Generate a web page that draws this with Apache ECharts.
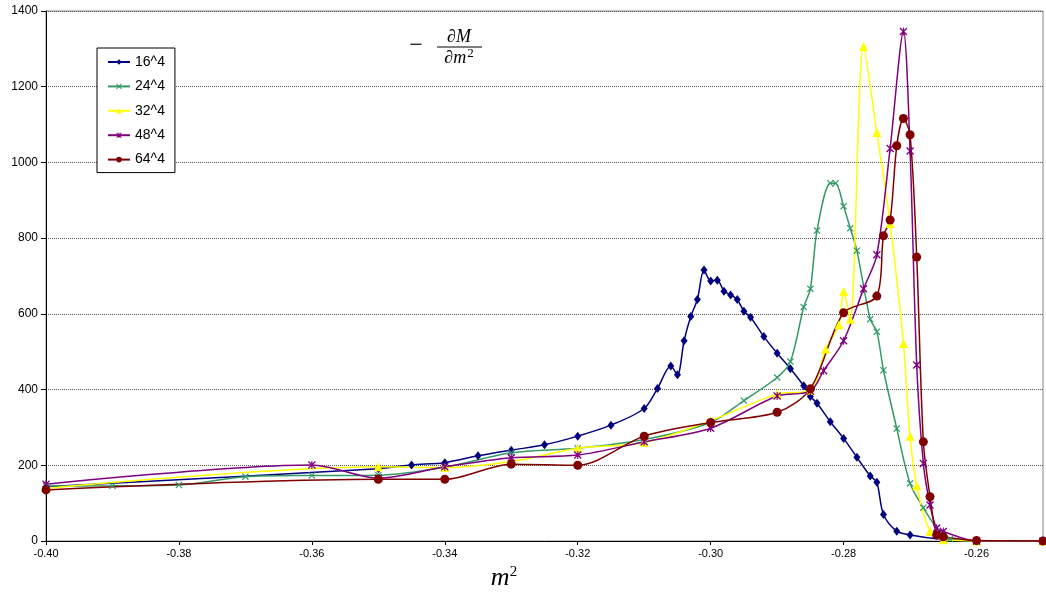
<!DOCTYPE html>
<html>
<head>
<meta charset="utf-8">
<script src="https://cdn.jsdelivr.net/npm/echarts@6/dist/echarts.min.js"></script>
<style>
  html, body { margin: 0; padding: 0; background: #fff; }
  #chart { width: 1046px; height: 592px; }
</style>
</head>
<body>
<div id="chart"></div>
<script>
// series names
const names = ["16^4", "24^4", "32^4", "48^4", "64^4"];

// [m^2, -dM/dm^2]
const s16 = [
  [-0.40, 143], [-0.35, 191], [-0.345, 201], [-0.34, 207], [-0.335, 225], [-0.33, 240],
  [-0.325, 254], [-0.32, 277], [-0.315, 306], [-0.31, 350], [-0.308, 403], [-0.306, 462],
  [-0.305, 439], [-0.304, 529], [-0.303, 593], [-0.302, 638], [-0.301, 716], [-0.300, 687],
  [-0.299, 689], [-0.298, 660], [-0.297, 650], [-0.296, 638], [-0.295, 607], [-0.294, 591],
  [-0.292, 540], [-0.290, 496], [-0.288, 455], [-0.286, 410], [-0.285, 382], [-0.284, 364],
  [-0.282, 315], [-0.280, 271], [-0.278, 221], [-0.276, 172], [-0.275, 155], [-0.274, 70],
  [-0.272, 26], [-0.270, 16], [-0.265, 4], [-0.26, 0], [-0.25, 0]
];
const s24 = [
  [-0.40, 145], [-0.39, 146], [-0.38, 148], [-0.37, 170], [-0.36, 173], [-0.35, 174],
  [-0.34, 195], [-0.33, 233], [-0.32, 245], [-0.31, 268], [-0.30, 313], [-0.295, 371],
  [-0.290, 432], [-0.288, 474], [-0.286, 618], [-0.285, 666], [-0.284, 820], [-0.282, 945],
  [-0.2812, 945], [-0.280, 884], [-0.279, 826], [-0.278, 767], [-0.276, 586], [-0.275, 553],
  [-0.274, 451], [-0.272, 297], [-0.270, 152], [-0.268, 88], [-0.266, 35], [-0.264, 5],
  [-0.26, 0], [-0.25, 0]
];
const s32 = [
  [-0.40, 139], [-0.35, 196], [-0.34, 194], [-0.33, 210], [-0.32, 245], [-0.31, 260],
  [-0.30, 318], [-0.29, 388], [-0.285, 398], [-0.2827, 507], [-0.2807, 571], [-0.280, 659],
  [-0.279, 586], [-0.277, 1306], [-0.275, 1079], [-0.273, 839], [-0.271, 522], [-0.270, 277],
  [-0.269, 146], [-0.267, 25], [-0.265, 3], [-0.26, 0], [-0.25, 0]
];
const s48 = [
  [-0.40, 150], [-0.36, 201], [-0.35, 166], [-0.34, 196], [-0.33, 220], [-0.32, 227],
  [-0.31, 262], [-0.30, 298], [-0.29, 383], [-0.285, 396], [-0.283, 450], [-0.280, 529],
  [-0.277, 666], [-0.275, 756], [-0.273, 1037], [-0.271, 1346], [-0.270, 1030], [-0.269, 465],
  [-0.268, 205], [-0.267, 95], [-0.266, 34], [-0.265, 25], [-0.26, 0], [-0.25, 0]
];
const s64 = [
  [-0.40, 135], [-0.35, 163], [-0.34, 163], [-0.33, 203], [-0.32, 200], [-0.31, 277],
  [-0.30, 313], [-0.29, 340], [-0.285, 402], [-0.280, 603], [-0.275, 647], [-0.274, 806],
  [-0.273, 848], [-0.272, 1044], [-0.271, 1116], [-0.270, 1073], [-0.269, 750], [-0.268, 262],
  [-0.267, 117], [-0.266, 16], [-0.265, 11], [-0.26, 1], [-0.25, 0]
];

const colors = ["#000080", "#339966", "#ffff00", "#800080", "#800000"];

// marker shapes (excel style)
const crossPath = "path://M0,1.2 L1.2,0 L5,3.8 L8.8,0 L10,1.2 L6.2,5 L10,8.8 L8.8,10 L5,6.2 L1.2,10 L0,8.8 L3.8,5 Z";
const starPath = crossPath + " M4.3,0 L5.7,0 L5.7,10 L4.3,10 Z";
const symbols = ["diamond", crossPath, "triangle", starPath, "circle"];
const symbolSizes = [[7, 9], 7, 9, 8, 9];

const chart = echarts.init(document.getElementById("chart"));

const seriesData = [s16, s24, s32, s48, s64];
const series = seriesData.map((d, i) => ({
  name: names[i],
  type: "line",
  data: d,
  smooth: 0.3,
  symbol: symbols[i],
  symbolSize: symbolSizes[i],
  showAllSymbol: true,
  color: colors[i],
  lineStyle: { width: 1.5, color: colors[i] },
  itemStyle: { color: colors[i] },
  animation: false
}));

const option = {
  animation: false,
  backgroundColor: "#fff",
  grid: {
    left: 46, right: 3, top: 11, bottom: 51,
    show: true, borderColor: "#888", borderWidth: 1
  },
  legend: {
    orient: "vertical",
    left: 97, top: 48,
    padding: [7, 10, 6, 10],
    itemWidth: 22, itemHeight: 7, itemGap: 10.4,
    borderColor: "#000", borderWidth: 1,
    backgroundColor: "#fff",
    textStyle: { fontFamily: "Liberation Sans", fontSize: 14, color: "#000", lineHeight: 14 },
    data: names
  },
  xAxis: {
    type: "value",
    min: -0.40, max: -0.25, interval: 0.02,
    axisLine: { show: true, onZero: false, lineStyle: { color: "#000", width: 1 } },
    axisTick: { show: true, length: 4, lineStyle: { color: "#000" } },
    splitLine: { show: false },
    axisLabel: {
      fontFamily: "Liberation Sans Narrow, Liberation Sans",
      fontSize: 11, color: "#000", margin: 7,
      showMaxLabel: false,
      formatter: v => v.toFixed(2)
    }
  },
  yAxis: {
    type: "value",
    min: 0, max: 1400, interval: 200,
    axisLine: { show: true, lineStyle: { color: "#000", width: 1 } },
    axisTick: { show: true, length: 5, lineStyle: { color: "#000" } },
    splitLine: { show: true, lineStyle: { color: "#555", type: [1, 1], width: 1 } },
    axisLabel: {
      fontFamily: "Liberation Sans", fontSize: 12, color: "#000", margin: 8,
      formatter: v => String(v)
    }
  },
  graphic: [
    // title  -dM/dm^2
    { type: "text", x: 416, y: 46, silent: true,
      style: { text: "−", font: '24px "Liberation Serif"', fill: "#000", align: "center", verticalAlign: "middle" } },
    { type: "text", x: 459, y: 37, silent: true,
      style: { text: "∂M", font: 'italic 18px "Liberation Serif"', fill: "#000", align: "center", verticalAlign: "middle" } },
    { type: "line", silent: true,
      shape: { x1: 437, y1: 47, x2: 482, y2: 47 },
      style: { stroke: "#000", lineWidth: 1 } },
    { type: "text", x: 459, y: 58, silent: true,
      style: {
        text: "{a|∂m}{b|2}", align: "center", verticalAlign: "middle", fill: "#000",
        rich: {
          a: { font: 'italic 18px "Liberation Serif"', fill: "#000" },
          b: { font: '13px "Liberation Serif"', fill: "#000", padding: [0, 0, 9, 1] }
        }
      } },
    // x axis name  m^2
    { type: "text", x: 504, y: 578, silent: true,
      style: {
        text: "{a|m}{b|2}", align: "center", verticalAlign: "middle", fill: "#000",
        rich: {
          a: { font: 'italic 26px "Liberation Serif"', fill: "#000" },
          b: { font: '15px "Liberation Serif"', fill: "#000", padding: [0, 0, 12, 0] }
        }
      } }
  ],
  series: series
};

chart.setOption(option);
</script>
</body>
</html>
